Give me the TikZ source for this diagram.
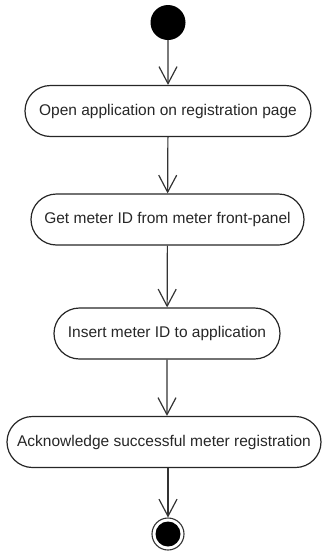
\documentclass[tikz,border=0pt]{standalone}
\usepackage{fontspec}
\setmainfont{Liberation Sans}
\usetikzlibrary{arrows.meta,shapes.misc}
\begin{document}
\begin{tikzpicture}[x=1pt,y=-1pt,
  act/.style={draw=black!85,line width=1.2pt,rounded rectangle,minimum height=51pt,inner sep=0pt,font=\fontsize{15.5}{18}\selectfont,text=black!85},
  flow/.style={draw=black!80,line width=1.2pt,-{Straight Barb[length=17pt,width=18pt,line width=1.2pt]}}]
\useasboundingbox (0,0) rectangle (322,552);
\node[circle,fill=black,minimum size=35pt,inner sep=0pt] (start) at (168,22.5) {};
\node[act,minimum width=286pt] (a1) at (168,111) {Open application on registration page};
\node[act,minimum width=273pt] (a2) at (167.5,219.5) {Get meter ID from meter front-panel};
\node[act,minimum width=226pt] (a3) at (167,333.5) {Insert meter ID to application};
\node[act,minimum width=314pt] (a4) at (164,442) {Acknowledge successful meter registration};
\node[circle,draw=black!80,line width=1.1pt,minimum size=32pt,inner sep=0pt] (end) at (168,534) {};
\node[circle,fill=black,minimum size=25pt,inner sep=0pt] (endin) at (end.center) {};
\draw[flow] (start) -- (a1);
\draw[flow] (a1) -- (a2);
\draw[flow] (a2) -- (a3);
\draw[flow] (a3) -- (a3 |- a4.north);
\draw[flow] (a4.south -| end) -- (end);
\end{tikzpicture}
\end{document}
